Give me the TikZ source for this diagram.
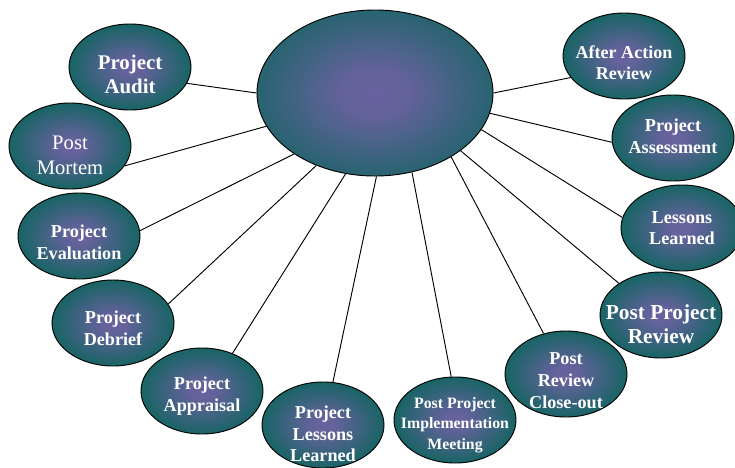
\documentclass[tikz,border=0pt]{standalone}
\usepackage{fontspec}
\setmainfont{Liberation Serif}
\usepackage{xcolor}
\usepackage{tikz}
\usetikzlibrary{shapes.geometric}

\definecolor{padteal}{RGB}{20,100,98}
\definecolor{padpurple}{RGB}{104,98,158}
\pgfdeclareradialshading{padglow}{\pgfpoint{0bp}{0bp}}{%
  color(0bp)=(padpurple); color(5bp)=(padpurple!95!padteal);
  color(26bp)=(padteal); color(50bp)=(padteal)}
\pgfdeclareradialshading{hubglow}{\pgfpoint{0bp}{0bp}}{%
  color(0bp)=(padpurple); color(7bp)=(padpurple!95!padteal);
  color(31bp)=(padteal); color(50bp)=(padteal)}

\tikzset{
  bubble/.style={ellipse, draw=black, thick, shading=padglow,
    minimum width=3.66cm, minimum height=2.58cm, inner sep=0pt},
  hub/.style={bubble, shading=hubglow, minimum width=7.08cm, minimum height=4.98cm},
  note/.style={align=center, text=white, inner sep=0pt,
    font=\bfseries\fontsize{15.5}{18.5}\selectfont},
  spoke/.style={thick, black}
}

\begin{document}
\begin{tikzpicture}[x=0.03cm, y=-0.03cm]
	\useasboundingbox (0,0) rectangle (735,467);

	% centre
	\node[hub] (core) at (375,93) {};

	% left side
	\node[bubble, label={[note, yshift=-0.22cm, font=\bfseries\fontsize{17.8}{21}\selectfont]center:Project\\Audit}] (audit) at (130,67) {};
	\node[bubble, label={[note, yshift=-0.28cm, font=\fontsize{17.6}{21.5}\selectfont]center:Post\\Mortem}] (mortem) at (70,146) {};
	\node[bubble, label={[note, yshift=-0.18cm]center:Project\\Evaluation}] (evaluation) at (79,236) {};
	\node[bubble, label={[note, yshift=-0.15cm]center:Project\\Debrief}] (debrief) at (113,323) {};
	\node[bubble, label={[note, yshift=-0.15cm]center:Project\\Appraisal}] (appraisal) at (202,391) {};

	% bottom
	\node[bubble, label={[note, yshift=-0.27cm]center:Project\\Lessons\\Learned}] (plessons) at (323,425) {};
	\node[bubble, label={[note, yshift=-0.15cm, font=\bfseries\fontsize{13.5}{17.5}\selectfont]center:Post Project\\Implementation\\Meeting}] (implement) at (455,420) {};

	% right side
	\node[bubble, label={[note, yshift=-0.2cm]center:Post\\Review\\Close-out}] (closeout) at (566,374) {};
	\node[bubble, label={[note, yshift=-0.27cm, font=\bfseries\fontsize{18.2}{21}\selectfont]center:Post Project\\Review}] (ppreview) at (661,315) {};
	\node[bubble, label={[note]center:Lessons\\Learned}] (lessons) at (682,228) {};
	\node[bubble, label={[note, yshift=0.06cm]center:Project\\Assessment}] (assessment) at (673,138) {};
	\node[bubble, label={[note, yshift=-0.2cm, font=\bfseries\fontsize{15.4}{18}\selectfont]center:After Action\\Review}] (aar) at (624,56) {};

	% spokes
	\draw[spoke] (core.180) -- (audit.344);
	\draw[spoke] (core.197) -- (mortem.340);
	\draw[spoke] (core.217) -- (evaluation.5);
	\draw[spoke] (core.231) -- (debrief.19);
	\draw[spoke] (core.250) -- (appraisal.51);
	\draw[spoke] (core.271) -- (plessons.77);
	\draw[spoke] (core.295) -- (implement.95);
	\draw[spoke] (core.320) -- (closeout.119);
	\draw[spoke] (core.326) -- (ppreview.143);
	\draw[spoke] (core.341) -- (lessons.170);
	\draw[spoke] (core.350) -- (assessment.184);
	\draw[spoke] (core.0) -- (aar.202);
\end{tikzpicture}
\end{document}
